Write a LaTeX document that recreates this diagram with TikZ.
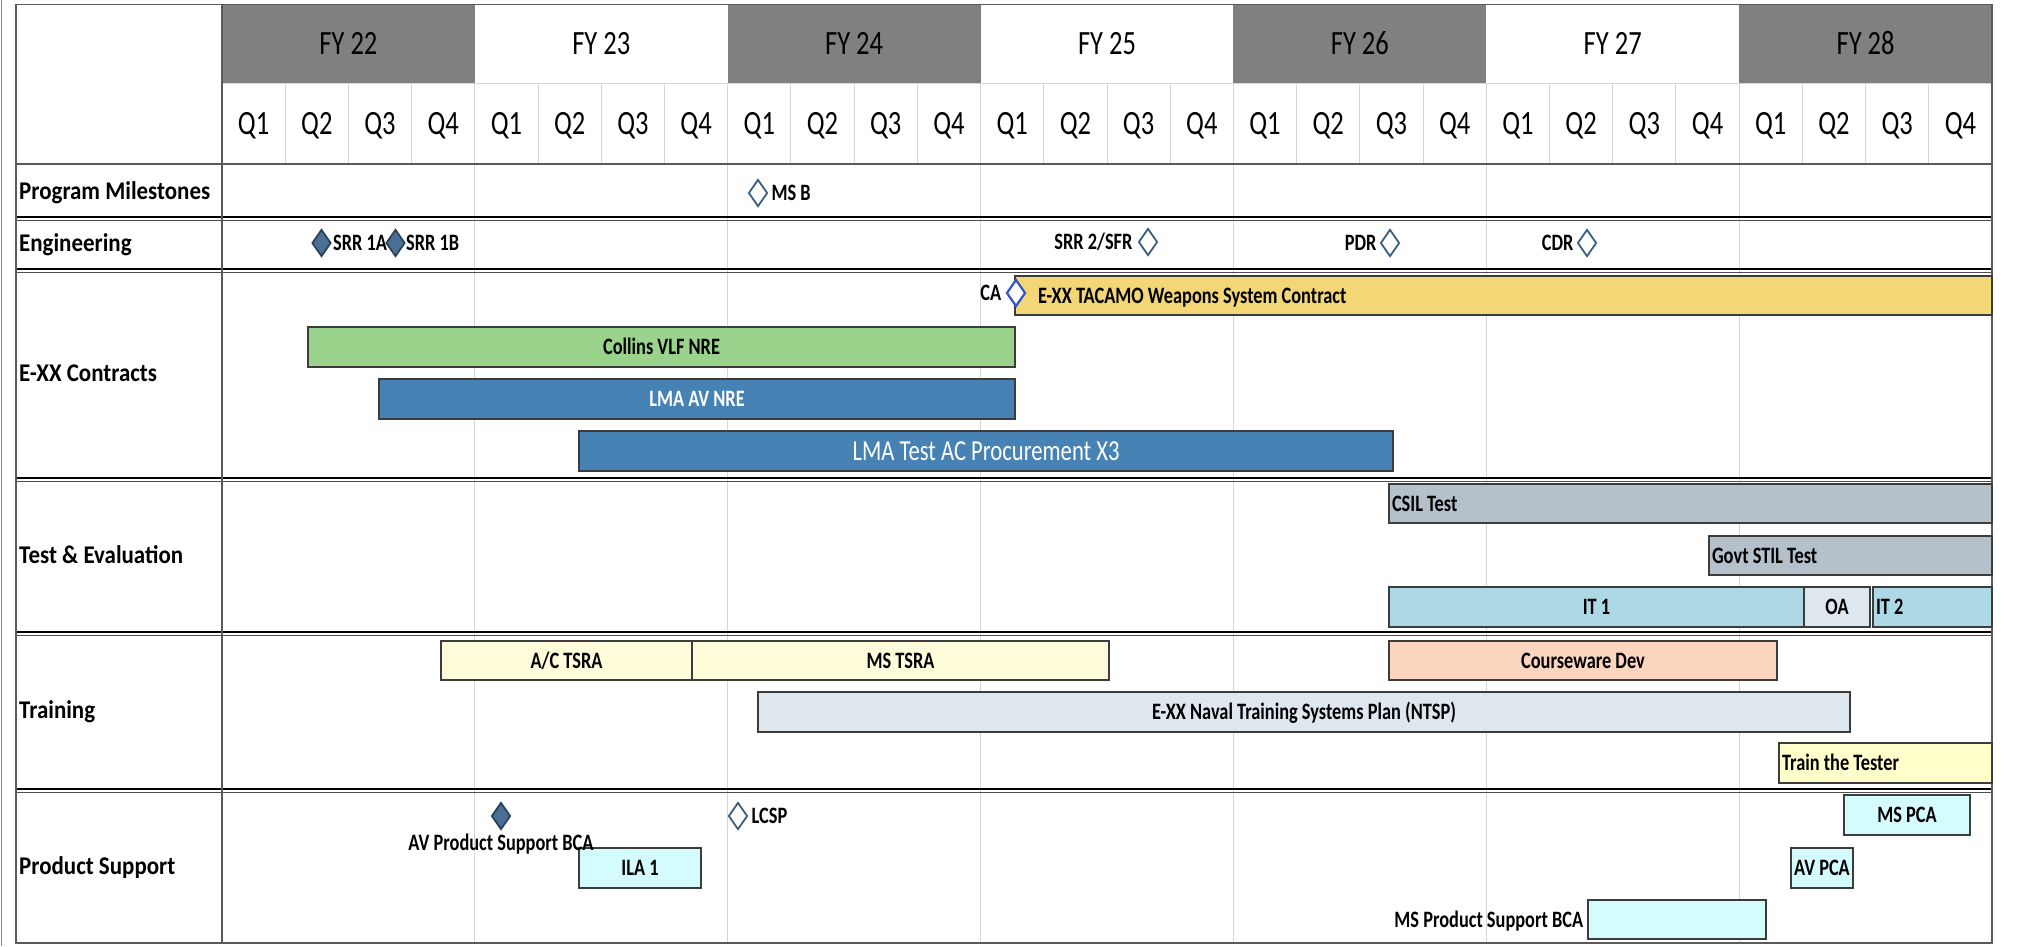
\documentclass[tikz,border=0pt]{standalone}
\usepackage{fontspec}
\setmainfont{Carlito}
\newfontfamily\cndfont{Carlito}[FakeStretch=0.78]
\newfontfamily\rowfont{Carlito}[FakeStretch=0.9]
\usetikzlibrary{positioning,shapes.geometric}
\definecolor{HdrGray}{HTML}{808080}
\definecolor{GridGray}{HTML}{D6D6D6}
\definecolor{EdgeGray}{HTML}{5A5A5A}
\definecolor{BarEdge}{HTML}{3C3C3C}
\definecolor{TacamoGold}{HTML}{F3D675}
\definecolor{CollinsGreen}{HTML}{9AD48C}
\definecolor{LmaBlue}{HTML}{4682B4}
\definecolor{SilGray}{HTML}{B4C1CA}
\definecolor{ItBlue}{HTML}{ADD8E6}
\definecolor{OaGray}{HTML}{DEE6EE}
\definecolor{TsraYellow}{HTML}{FFFCDC}
\definecolor{CoursePeach}{HTML}{FCD5BE}
\definecolor{TesterYellow}{HTML}{FFFFCC}
\definecolor{SupCyan}{HTML}{D4FBFD}
\definecolor{MsEdge}{HTML}{3A5F82}
\definecolor{MsFill}{HTML}{4B6E93}
\definecolor{CaBlue}{HTML}{3355CC}

\begin{document}
\begin{tikzpicture}[
  x=1pt,y=-1pt,
  hdr/.style={inner sep=0pt,font=\cndfont\fontsize{34}{40}\selectfont,text height=21.5,text depth=0},
  rowlab/.style={anchor=west,inner sep=0pt,font=\rowfont\bfseries\fontsize{25.5}{30}\selectfont,text height=16,text depth=0},
  bar/.style={draw=BarEdge,line width=1.4,inner sep=0pt,minimum height=40,font=\cndfont\bfseries\fontsize{23.5}{28}\selectfont,text height=15,text depth=0},
  ms/.style={diamond,draw=MsEdge,line width=1.8,fill=white,minimum width=19,minimum height=27,inner sep=0pt},
  msdone/.style={ms,fill=MsFill,draw=MsEdge!70!black},
  mlab/.style={inner sep=0pt,font=\cndfont\bfseries\fontsize{23.5}{28}\selectfont,text height=15,text depth=0}
]
  \useasboundingbox (0,0) rectangle (2017,946);
  \draw[black!45,line width=1.5] (1.5,0) -- (1.5,946);

  % header: fiscal years and quarters
  \foreach \fy in {22,24,26,28}
    \fill[HdrGray] ({222+252.857*(\fy-22)},4.5) rectangle ++(252.857,78.5);
  \draw[GridGray,line width=1] (222,83) -- (1992,83);
  \foreach \fy in {22,...,28}
    \node[hdr] (fy\fy) at ({348.43+252.857*(\fy-22)},44) {FY \fy};
  \foreach \q in {0,...,27} {
    \pgfmathtruncatemacro{\qn}{mod(\q,4)+1}
    \draw[GridGray,line width=1] ({222+63.214*\q},83) -- ++(0,81);
    \node[hdr] (q\q) at ({253.6+63.214*\q},123.5) {Q\qn};
  }

  % grid
  \foreach \k in {1,...,6}
    \draw[GridGray,line width=1] ({222+252.857*\k},164) -- ({222+252.857*\k},943);
  \draw[EdgeGray,line width=2] (16,164) -- (1992,164);
  \foreach \ry in {217,269,478,632,789} {
    \draw[black,line width=2.8] (16,\ry) -- (1992,\ry);
    \draw[black!70,line width=0.9] (16,\ry+3.8) -- (1992,\ry+3.8);
  }
  \draw[EdgeGray,line width=1.5] (222,4.5) -- (222,943);
  \draw[EdgeGray,line width=1.5] (16,4.5) rectangle (1992,943);

  % row labels
  \node[rowlab] (pmlab) at (19,191) {Program Milestones};
  \node[rowlab] (englab) at (19,243) {Engineering};
  \node[rowlab] (conlab) at (19,373) {E-XX Contracts};
  \node[rowlab] (telab) at (19,555) {Test \& Evaluation};
  \node[rowlab] (trnlab) at (19,710) {Training};
  \node[rowlab] (pslab) at (19,866) {Product Support};

  % contracts
  \node[bar,fill=TacamoGold,minimum height=39] (tacamo) at (1503.5,295.5) {\hbox to 977pt{\hspace{23pt}E-XX TACAMO Weapons System Contract\hfil}};
  \node[bar,fill=CollinsGreen,minimum width=707] (collins) at (661.5,347) {Collins VLF NRE};
  \node[bar,fill=LmaBlue,text=white,minimum width=636] (lmaav) at (697,399) {LMA AV NRE};
  \node[bar,fill=LmaBlue,text=white,minimum width=814,font=\cndfont\fontsize{29}{34}\selectfont,text height=18] (lmatest) at (986,451) {LMA Test AC Procurement X3};

  % test and evaluation
  \node[bar,fill=SilGray,minimum height=39] (csil) at (1690.5,503.5) {\hbox to 603pt{\hspace{3pt}CSIL Test\hfil}};
  \node[bar,fill=SilGray,minimum height=39] (stil) at (1850.5,555.5) {\hbox to 283pt{\hspace{3pt}Govt STIL Test\hfil}};
  \node[bar,fill=ItBlue,minimum width=415] (itone) at (1596.5,607) {IT 1};
  \node[bar,fill=OaGray,minimum width=66] (oa) at (1837,607) {OA};
  \node[bar,fill=ItBlue] (ittwo) at (1932.5,607) {\hbox to 119pt{\hspace{3pt}IT 2\hfil}};

  % training
  \node[bar,fill=TsraYellow,minimum width=251,minimum height=39] (actsra) at (566.5,660.5) {A/C TSRA};
  \node[bar,fill=TsraYellow,minimum width=417,minimum height=39] (mstsra) at (900.5,660.5) {MS TSRA};
  \node[bar,fill=CoursePeach,minimum width=388,minimum height=39] (course) at (1583,660.5) {Courseware Dev};
  \node[bar,fill=OaGray,minimum width=1092] (ntsp) at (1304,712) {E-XX Naval Training Systems Plan (NTSP)};
  \node[bar,fill=TesterYellow] (tester) at (1885.5,763) {\hbox to 213pt{\hspace{3pt}Train the Tester\hfil}};

  % product support
  \node[bar,fill=SupCyan,minimum width=122] (ilaone) at (640,868) {ILA 1};
  \node[bar,fill=SupCyan,minimum width=126] (mspca) at (1907,815) {MS PCA};
  \node[bar,fill=SupCyan,minimum width=62] (avpca) at (1822,868) {AV PCA};
  \node[bar,fill=SupCyan,minimum width=178,minimum height=39] (msbca) at (1677,919.5) {};
  \node[mlab,left=4pt of msbca] (msbcalab) {MS Product Support BCA};

  % milestones
  \node[ms] (msb) at (758,193) {};
  \node[mlab,right=3pt of msb] (msblab) {MS B};
  \node[msdone] (srra) at (321.5,243) {};
  \node[mlab,right=1pt of srra] (srralab) {SRR 1A};
  \node[msdone] (srrb) at (395.5,243) {};
  \node[mlab,right=0pt of srrb] (srrblab) {SRR 1B};
  \node[ms] (srrtwo) at (1148,242) {};
  \node[mlab,left=5pt of srrtwo] (srrtwolab) {SRR 2/SFR};
  \node[ms] (pdr) at (1390,243) {};
  \node[mlab,left=3pt of pdr] (pdrlab) {PDR};
  \node[ms] (cdr) at (1587,243) {};
  \node[mlab,left=3pt of cdr] (cdrlab) {CDR};
  \node[ms,draw=CaBlue,line width=2.2] (ca) at (1016,293) {};
  \node[mlab,left=4pt of ca] (calab) {CA};
  \node[msdone] (avbca) at (501,816) {};
  \node[mlab,below=5pt of avbca] (avbcalab) {AV Product Support BCA};
  \node[ms] (lcsp) at (738,816) {};
  \node[mlab,right=3pt of lcsp] (lcsplab) {LCSP};
\end{tikzpicture}
\end{document}
